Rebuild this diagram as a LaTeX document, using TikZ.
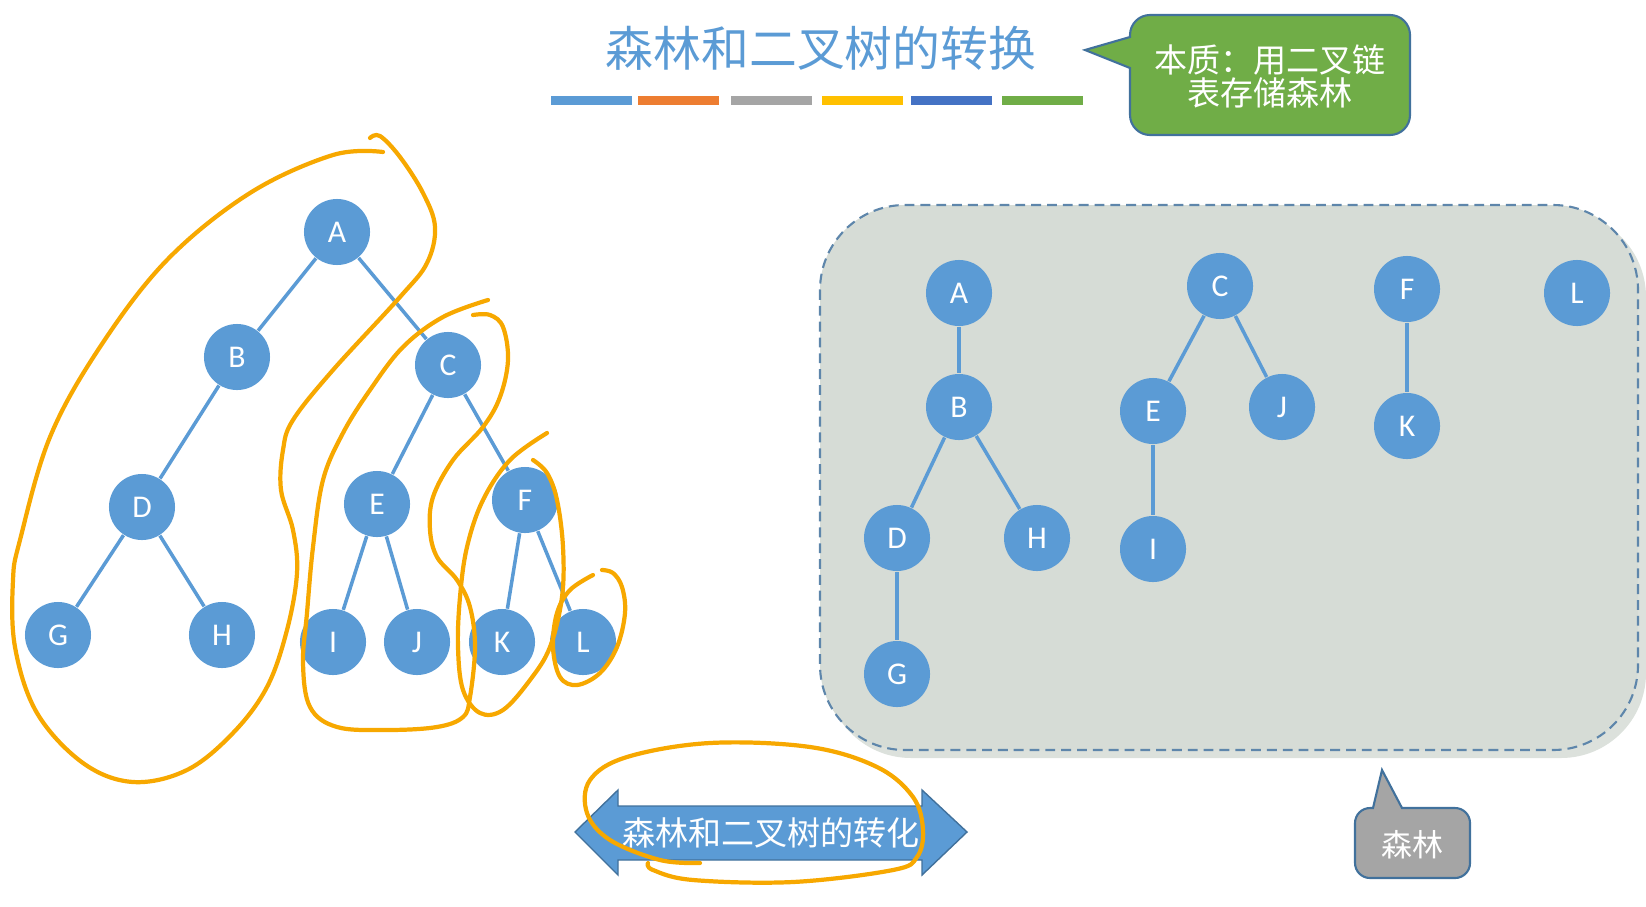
\documentclass[tikz,border=0pt]{standalone}
\usepackage{fontspec}
\setmainfont{Carlito}
\newfontfamily\cjk{Noto Sans CJK SC}
\definecolor{NodeBlue}{RGB}{91,155,213}
\definecolor{EdgeBlue}{RGB}{65,113,156}
\definecolor{InkOrange}{RGB}{247,168,0}
\definecolor{BoxGray}{RGB}{214,220,214}
\definecolor{CallGreen}{RGB}{112,173,71}
\definecolor{CallGray}{RGB}{165,165,165}
\definecolor{BarA}{RGB}{91,155,213}
\definecolor{BarB}{RGB}{237,125,49}
\definecolor{BarC}{RGB}{165,165,165}
\definecolor{BarD}{RGB}{255,192,0}
\definecolor{BarE}{RGB}{68,114,196}
\definecolor{BarF}{RGB}{112,173,71}

\begin{document}
\begin{tikzpicture}[x=0.01cm,y=-0.01cm,
        tn/.style={circle,fill=NodeBlue,text=white,minimum size=0.66cm,inner sep=0pt,font=\fontsize{9}{10}\selectfont},
        tl/.style={NodeBlue,line width=1pt},
        ink/.style={InkOrange,line width=1.2pt,line cap=round,line join=round},
        call/.style={draw=EdgeBlue,line width=0.6pt},
        ctext/.style={text=white,align=center,font=\cjk\fontsize{9.4}{9.4}\selectfont}
    ]
    \useasboundingbox (0,0) rectangle (1646,906);

    % title and colour bars
    \node[text=NodeBlue,font=\cjk\fontsize{13.6}{14}\selectfont] (title) at (821,48) {森林和二叉树的转换};
    \foreach \x/\c in {551/BarA,638/BarB,731/BarC,822/BarD,911/BarE,1002/BarF} {
        \fill[\c] (\x,96) rectangle ++(81,9);
    }

    % callout: essence
    \path[call,fill=CallGreen] (1085,50) -- (1130,68) [rounded corners=0.2cm] -- (1130,135) -- (1410,135) -- (1410,15) -- (1130,15) [sharp corners] -- (1130,37) -- cycle;
    \node[ctext] (note) at (1270,76) {本质：用二叉链\\表存储森林};

    % forest box
    \fill[BoxGray!85!white,rounded corners=0.85cm] (826,212) rectangle (1646,758);
    \draw[EdgeBlue!85!white,fill=BoxGray,line width=0.6pt,dash pattern=on 2.8pt off 1.7pt,rounded corners=0.85cm] (820,205) rectangle (1638,750);

    % binary tree (left)
    \foreach \n/\x/\y in {A/337/232,B/237/357,C/448/365,D/142/507,E/377/504,F/525/500,
                         G/58/635,H/222/635,I/333/642,J/417/642,K/502/642,L/583/642} {
        \node[tn] (b\n) at (\x,\y) {\n};
    }
    \foreach \a/\b in {A/B,A/C,B/D,C/E,C/F,D/G,D/H,E/I,E/J,F/K,F/L} {
        \draw[tl] (b\a)--(b\b);
    }

    % forest (right)
    \foreach \n/\x/\y in {A/959/293,B/959/407,D/897/538,H/1037/538,G/897/674,
                         C/1220/286,E/1153/411,J/1282/407,I/1153/549,
                         F/1407/289,K/1407/426,L/1577/293} {
        \node[tn] (f\n) at (\x,\y) {\n};
    }
    \foreach \a/\b in {A/B,B/D,B/H,D/G,C/E,C/J,E/I,F/K} {
        \draw[tl] (f\a)--(f\b);
    }

    % double arrow
    \path[call,fill=NodeBlue,line width=0.4pt] (575,832) -- (618,790) -- (618,806) -- (922,806) -- (922,790) -- (967,832)
        -- (922,875) -- (922,860) -- (618,860) -- (618,875) -- cycle;
    \node[ctext] (conv) at (771,833) {森林和二叉树的转化};

    % callout: forest
    \path[call,fill=CallGray] (1382,770) -- (1402,808) [rounded corners=0.15cm] -- (1470,808) -- (1470,878) -- (1355,878) -- (1355,808) [sharp corners] -- (1373,808) -- cycle;
    \node[ctext,font=\cjk\fontsize{8.8}{9}\selectfont] (forest) at (1412,845) {森林};

    % hand-drawn marks
    \draw[ink] plot[smooth,tension=0.6] coordinates {(383,152) (333,155) (250,193) (167,260) (100,347) (50,437) (20,540)
        (13,580) (15,647) (37,713) (83,763) (133,782) (187,770) (233,733) (267,687) (287,630) (297,573) (293,530)
        (281,490) (283,450) (293,420) (333,370) (400,297) (427,263) (435,227) (423,193) (400,157) (380,136) (370,138)};
    \draw[ink] plot[smooth,tension=0.6] coordinates {(488,300) (443,317) (403,347) (370,390) (343,433) (323,480) (313,547)
        (307,613) (303,663) (310,707) (337,727) (387,730) (437,727) (463,717) (470,697) (475,647) (470,607) (457,580)
        (437,557) (430,530) (433,497) (453,460) (483,427) (500,397) (508,360) (503,327) (490,315) (473,315)};
    \draw[ink] plot[smooth,tension=0.6] coordinates {(547,433) (510,460) (483,500) (467,547) (460,597) (458,647) (463,690)
        (480,713) (503,710) (530,680) (550,647) (562,597) (563,547) (557,500) (547,473) (533,460)};
    \draw[ink] plot[smooth,tension=0.6] coordinates {(593,575) (570,590) (557,613) (553,647) (560,677) (577,685) (600,673)
        (617,647) (625,613) (622,587) (613,573) (602,570)};
    \draw[ink] plot[smooth,tension=0.6] coordinates {(700,863) (660,860) (610,840) (587,813) (590,780) (627,757) (710,743)
        (810,747) (877,767) (913,797) (923,830) (917,857) (893,870) (793,882) (693,880) (653,870) (648,863)};
\end{tikzpicture}
\end{document}
